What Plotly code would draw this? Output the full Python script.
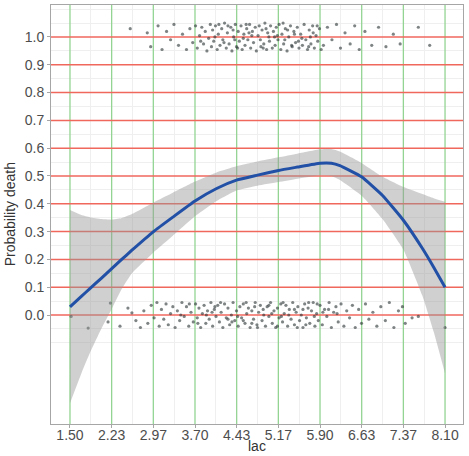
import plotly.graph_objects as go

# ---- data ----
x_ticks = [1.5, 2.2333, 2.9667, 3.7, 4.4333, 5.1667, 5.9, 6.6333, 7.3667, 8.1]
x_labels = ["1.50", "2.23", "2.97", "3.70", "4.43", "5.17", "5.90", "6.63", "7.37", "8.10"]
y_ticks = [0.0, 0.1, 0.2, 0.3, 0.4, 0.5, 0.6, 0.7, 0.8, 0.9, 1.0]
y_labels = ["0.0", "0.1", "0.2", "0.3", "0.4", "0.5", "0.6", "0.7", "0.8", "0.9", "1.0"]
x_minor = [1.8667, 2.6, 3.3333, 4.0667, 4.8, 5.5333, 6.2667, 7.0, 7.7333]
y_minor = [-0.1, -0.05, 0.05, 0.15, 0.25, 0.35, 0.45, 0.55, 0.65, 0.75, 0.85, 0.95, 1.05, 1.1]

lac_grid = [1.50, 1.70, 1.85, 2.05, 2.23, 2.40, 2.59, 2.97, 3.31, 3.70, 4.08, 4.43, 4.80, 5.17, 5.50, 5.90, 6.10, 6.25, 6.63, 7.00, 7.37, 7.70, 7.90, 8.10]
fit = [0.029, 0.067, 0.095, 0.132, 0.166, 0.198, 0.233, 0.30, 0.352, 0.41, 0.455, 0.485, 0.503, 0.52, 0.532, 0.546, 0.546, 0.537, 0.497, 0.43, 0.34, 0.24, 0.172, 0.10]
upper = [0.378, 0.36, 0.352, 0.345, 0.343, 0.348, 0.363, 0.405, 0.44, 0.48, 0.513, 0.535, 0.552, 0.567, 0.58, 0.596, 0.597, 0.588, 0.547, 0.497, 0.46, 0.435, 0.42, 0.407]
lower = [-0.317, -0.21, -0.137, -0.05, 0.02, 0.09, 0.15, 0.225, 0.285, 0.355, 0.41, 0.448, 0.465, 0.478, 0.49, 0.503, 0.5, 0.486, 0.43, 0.345, 0.234, 0.07, -0.06, -0.21]

died_pts = [
    (2.56, 1.03), (2.86, 1.015), (2.92, 0.965), (3.05, 1.04), (3.12, 0.955), (3.20, 1.02), (3.27, 0.99),
    (3.33, 1.045), (3.41, 0.97), (3.48, 1.01), (3.55, 0.955), (3.61, 1.03), (3.66, 0.98),
    (3.71, 1.04), (3.74, 0.96), (3.78, 1.005), (3.82, 1.035), (3.85, 0.975), (3.88, 1.02), (3.91, 0.95),
    (3.94, 0.995), (3.97, 1.045), (3.99, 0.965),
    (4.01, 1.025), (4.03, 0.985), (4.06, 1.04), (4.09, 0.955), (4.11, 1.01), (4.14, 0.97), (4.17, 1.03),
    (4.19, 0.99), (4.22, 1.05), (4.25, 0.96), (4.27, 1.015), (4.30, 0.975), (4.33, 1.035), (4.35, 0.95),
    (4.38, 1.0), (4.41, 1.045), (4.43, 0.965), (4.46, 1.02), (4.48, 0.985),
    (4.51, 1.04), (4.53, 0.955), (4.56, 1.01), (4.58, 0.97), (4.61, 1.03), (4.63, 0.99), (4.66, 1.045),
    (4.68, 0.96), (4.71, 1.02), (4.73, 0.98), (4.76, 1.035), (4.78, 0.95), (4.81, 1.005), (4.83, 1.04),
    (4.86, 0.965), (4.88, 1.025), (4.91, 0.975), (4.93, 1.05), (4.96, 0.955), (4.98, 1.015),
    (5.01, 0.985), (5.03, 1.04), (5.06, 0.96), (5.08, 1.02), (5.11, 0.97), (5.13, 1.035), (5.16, 0.99),
    (5.18, 1.045), (5.21, 0.955), (5.23, 1.01), (5.26, 0.975), (5.29, 1.03), (5.32, 0.95), (5.35, 1.0),
    (5.38, 1.04), (5.41, 0.965), (5.44, 1.02), (5.47, 0.98), (5.50, 1.035), (5.53, 0.96), (5.56, 1.01),
    (5.59, 0.97), (5.62, 1.045), (5.65, 0.99), (5.68, 0.955), (5.71, 1.025), (5.74, 0.975), (5.77, 1.04),
    (5.80, 0.96), (5.83, 1.005), (5.86, 0.985), (5.89, 1.03),
    (5.96, 0.97), (6.03, 1.035), (6.11, 0.99), (6.19, 1.045), (6.26, 0.96), (6.34, 1.015), (6.43, 0.975),
    (6.51, 1.04), (6.59, 0.955), (6.69, 1.02), (6.81, 0.97), (6.93, 1.035), (7.06, 0.965), (7.19, 1.01),
    (7.31, 0.975), (7.63, 1.035), (7.83, 0.97),
    (4.05, 1.0), (4.21, 0.98), (4.37, 1.025), (4.55, 0.995), (4.70, 1.005), (4.85, 0.99), (5.0, 1.0),
    (5.15, 1.005), (5.28, 0.99), (5.45, 1.01), (5.58, 0.995), (5.73, 1.0), (4.45, 0.96), (4.95, 1.03),
    (5.40, 0.97), (5.85, 1.04), (4.60, 1.045), (5.25, 1.05), (5.70, 0.965), (4.28, 1.04),
    (3.80, 0.985), (4.12, 1.045), (4.40, 0.99), (4.65, 1.015), (4.90, 0.96), (5.10, 1.0), (5.33, 1.025),
    (5.52, 0.985), (5.78, 1.015), (5.92, 0.955),
]

survived_pts = [
    (1.52, -0.005), (1.82, -0.047), (2.17, -0.025), (2.21, 0.043), (2.38, -0.04), (2.52, 0.025), (2.59, 0.008),
    (2.66, -0.02), (2.74, -0.045), (2.80, 0.015), (2.87, -0.03), (2.93, 0.035), (2.98, -0.01), (3.03, 0.045),
    (3.07, -0.04), (3.11, 0.02), (3.15, -0.015), (3.19, 0.04), (3.23, -0.035), (3.27, 0.005), (3.31, 0.03),
    (3.35, -0.045), (3.39, 0.015), (3.43, -0.02), (3.47, 0.045), (3.51, -0.005), (3.55, 0.03), (3.59, -0.04),
    (3.63, 0.01), (3.67, -0.025),
    (3.71, 0.04), (3.74, -0.01), (3.77, 0.025), (3.80, -0.045), (3.83, 0.005), (3.86, 0.035), (3.89, -0.03),
    (3.92, 0.015), (3.95, -0.015), (3.98, 0.045),
    (4.01, -0.04), (4.04, 0.02), (4.07, -0.005), (4.10, 0.035), (4.13, -0.025), (4.16, 0.01), (4.19, -0.045),
    (4.22, 0.04), (4.25, -0.01), (4.28, 0.025), (4.31, -0.035), (4.34, 0.0), (4.37, 0.045), (4.40, -0.02),
    (4.43, 0.015), (4.46, -0.04), (4.49, 0.03),
    (4.52, -0.01), (4.55, 0.04), (4.58, -0.03), (4.61, 0.005), (4.64, 0.025), (4.67, -0.045), (4.70, 0.015),
    (4.73, -0.015), (4.76, 0.045), (4.79, -0.035), (4.82, 0.01), (4.85, 0.035), (4.88, -0.02), (4.91, 0.0),
    (4.94, -0.04), (4.97, 0.03),
    (5.00, -0.005), (5.03, 0.045), (5.06, -0.03), (5.09, 0.015), (5.12, -0.045), (5.15, 0.025), (5.18, -0.01),
    (5.21, 0.04), (5.24, -0.025), (5.27, 0.005), (5.30, 0.035), (5.33, -0.04), (5.36, 0.02), (5.39, -0.015),
    (5.42, 0.045), (5.45, -0.035), (5.48, 0.01), (5.51, 0.03), (5.54, -0.02), (5.57, 0.0),
    (5.60, -0.045), (5.63, 0.04), (5.66, -0.01), (5.69, 0.025), (5.72, -0.03), (5.75, 0.015), (5.78, 0.045),
    (5.81, -0.04), (5.84, 0.005), (5.87, -0.02), (5.90, 0.035), (5.94, -0.035), (5.98, 0.02), (6.02, -0.005),
    (6.06, 0.045), (6.10, -0.045), (6.14, 0.01), (6.18, 0.03), (6.22, -0.025), (6.27, 0.04), (6.32, -0.04),
    (6.37, 0.015), (6.42, -0.01), (6.47, 0.035), (6.52, -0.045),
    (6.58, 0.02), (6.63, -0.03), (6.70, 0.04), (6.76, -0.015), (6.83, 0.01), (6.90, -0.04), (6.97, 0.03),
    (7.05, -0.02), (7.12, 0.045), (7.20, -0.045), (7.28, 0.015), (7.35, 0.03), (7.40, -0.03), (7.52, -0.01),
    (7.63, -0.005), (8.10, -0.045),
    (3.9, 0.0), (4.15, 0.045), (4.35, -0.025), (4.6, 0.045), (4.8, -0.045), (5.05, 0.005), (5.25, 0.045),
    (5.5, -0.045), (5.7, 0.045), (5.95, 0.01), (4.0, 0.01), (4.45, -0.005), (4.9, 0.02), (5.35, 0.0),
    (5.8, -0.005), (6.2, 0.005), (3.6, 0.04), (4.7, -0.03), (5.15, -0.04), (5.6, 0.02),
    (3.45, 0.0), (3.75, -0.03), (4.05, 0.03), (4.28, -0.015), (4.55, -0.02), (4.75, 0.03), (5.0, 0.035),
    (5.22, -0.005), (5.45, 0.02), (5.65, -0.035), (5.85, 0.04), (6.05, 0.02),
]

X_RANGE = [1.166, 8.416]
Y_RANGE = [-0.392, 1.115]

fig = go.Figure()

# reference lines (green verticals, red horizontals)
for xv in x_ticks:
    fig.add_trace(go.Scatter(x=[xv, xv], y=Y_RANGE, mode="lines",
                             line=dict(color="#93d493", width=1.3), hoverinfo="skip", showlegend=False))
for yv in y_ticks:
    fig.add_trace(go.Scatter(x=X_RANGE, y=[yv, yv], mode="lines",
                             line=dict(color="#f0675c", width=1.5), hoverinfo="skip", showlegend=False))

# points
pts = died_pts + survived_pts
fig.add_trace(go.Scatter(x=[p[0] for p in pts], y=[p[1] for p in pts], mode="markers",
                         marker=dict(color="rgba(40,48,50,0.6)", size=3.2, line=dict(width=0)),
                         showlegend=False, hoverinfo="skip"))

# ribbon
fig.add_trace(go.Scatter(x=lac_grid, y=lower, mode="lines",
                         line=dict(width=0, shape="spline", smoothing=0.4),
                         showlegend=False, hoverinfo="skip"))
fig.add_trace(go.Scatter(x=lac_grid, y=upper, mode="lines", fill="tonexty",
                         line=dict(width=0, shape="spline", smoothing=0.4),
                         fillcolor="rgba(150,150,150,0.45)", showlegend=False, hoverinfo="skip"))

# smooth curve
fig.add_trace(go.Scatter(x=lac_grid, y=fit, mode="lines",
                         line=dict(color="#2150a6", width=3, shape="spline", smoothing=0.4),
                         showlegend=False))

font = "Liberation Sans, Arial, sans-serif"
fig.update_layout(
    width=469, height=456,
    margin=dict(l=51, r=6, t=5, b=32),
    paper_bgcolor="white", plot_bgcolor="white",
    font=dict(family=font, size=14, color="#4d4d4d"),
    xaxis=dict(range=X_RANGE, tickvals=x_ticks, ticktext=x_labels, showgrid=False, zeroline=False,
               showline=True, mirror=True, linecolor="#a6a6a6", linewidth=1,
               ticks="outside", ticklen=3, tickcolor="#a6a6a6", ticklabelstandoff=-5,
               minor=dict(tickvals=x_minor, showgrid=True, gridcolor="#efefef", gridwidth=1, ticks=""),
               automargin=False),
    yaxis=dict(range=Y_RANGE, tickvals=y_ticks, ticktext=y_labels, showgrid=False, zeroline=False,
               showline=True, mirror=True, linecolor="#a6a6a6", linewidth=1,
               ticks="outside", ticklen=3, tickcolor="#a6a6a6",
               minor=dict(tickvals=y_minor, showgrid=True, gridcolor="#efefef", gridwidth=1, ticks=""),
               automargin=False),
    annotations=[
        dict(text="lac", xref="paper", yref="paper", x=0.5, y=-0.0764, xanchor="center", yanchor="bottom",
             showarrow=False, font=dict(family=font, size=14, color="#333333")),
        dict(text="Probability death", xref="paper", yref="paper", x=-0.10, y=0.5, textangle=-90,
             xanchor="center", yanchor="middle", showarrow=False,
             font=dict(family=font, size=14, color="#333333")),
    ],
)

fig.write_html("out.html")
